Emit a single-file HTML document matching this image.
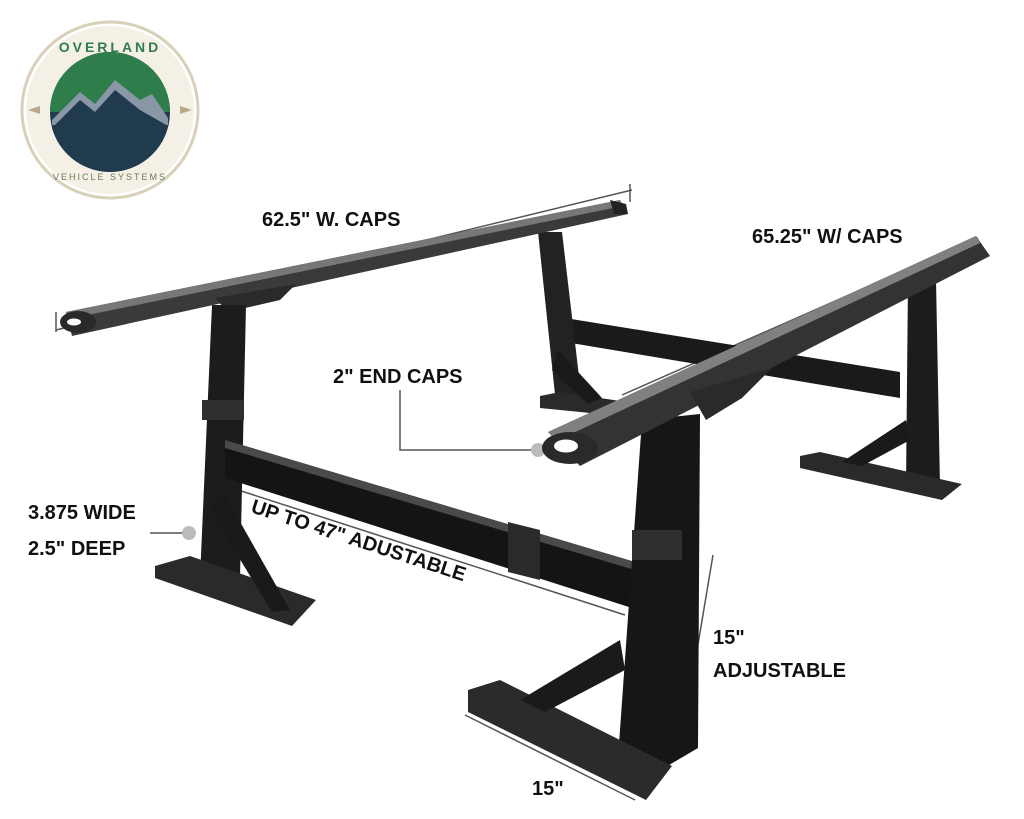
<!DOCTYPE html>
<html><head><meta charset="utf-8">
<style>
html,body{margin:0;padding:0;background:#fff;}
svg{display:block;}
text{font-family:"Liberation Sans",sans-serif;}
</style></head>
<body>
<svg width="1024" height="819" viewBox="0 0 1024 819" xmlns="http://www.w3.org/2000/svg">
<rect width="1024" height="819" fill="#fff"/>
<!-- Logo -->
<circle cx="110" cy="110" r="88" fill="#fff" stroke="#d8d0b8" stroke-width="3"/>
<circle cx="110" cy="110" r="84" fill="#f4f0e6"/>
<circle cx="110" cy="112" r="60" fill="#1f3b4d"/>
<path d="M50,112 A60,60 0 0 1 170,112 Z" fill="#2e7d4a"/>
<path d="M52,120 L80,92 L95,104 L115,80 L140,100 L152,94 L168,118 L168,125 L52,125 Z" fill="#8a97a6"/>
<path d="M52,128 L80,100 L95,112 L115,90 L140,110 L168,126 A60,60 0 0 1 52,128 Z" fill="#1f3b4d"/>
<text x="110" y="52" text-anchor="middle" font-size="14" font-weight="bold" fill="#2e7d4a" letter-spacing="3">OVERLAND</text>
<text x="110" y="180" text-anchor="middle" font-size="9" fill="#6b7b5a" letter-spacing="2">VEHICLE SYSTEMS</text>
<polygon points="28,110 40,106 40,114" fill="#b8a888"/>
<polygon points="192,110 180,106 180,114" fill="#b8a888"/>

<!-- Dimension lines -->
<g stroke="#555" stroke-width="1.5" fill="none">
<line x1="56" y1="330" x2="632" y2="190"/>
<line x1="56" y1="312" x2="56" y2="332"/>
<line x1="630" y1="184" x2="630" y2="202"/>
<line x1="622" y1="395" x2="978" y2="238"/>
<polyline points="400,390 400,450 535,450"/>
<line x1="150" y1="533" x2="188" y2="533"/>
<line x1="232" y1="488" x2="625" y2="615"/>
<line x1="713" y1="555" x2="680" y2="752"/>
<line x1="465" y1="715" x2="635" y2="800"/>
</g>
<circle cx="538" cy="450" r="7" fill="#bbb"/>
<circle cx="189" cy="533" r="7" fill="#bbb"/>

<!-- Back crossbar -->
<polygon points="565,318 900,372 900,398 565,342" fill="#1a1a1a"/>
<!-- Back left leg -->
<polygon points="538,232 562,232 582,402 556,404" fill="#222"/>
<polygon points="540,396 560,392 640,404 620,416 540,408" fill="#2a2a2a"/>
<polygon points="558,350 602,398 588,404 552,370" fill="#1a1a1a"/>
<!-- Back right leg -->
<polygon points="908,280 936,280 940,486 906,486" fill="#1c1c1c"/>
<polygon points="800,456 820,452 962,484 942,500 800,468" fill="#2a2a2a"/>
<polygon points="906,420 842,462 862,466 910,440" fill="#1a1a1a"/>

<!-- Left top rail -->
<polygon points="66,312 620,200 628,214 72,336" fill="#3a3a3a"/>
<polygon points="66,312 620,200 623,206 68,319" fill="#777"/>
<ellipse cx="78" cy="322" rx="18" ry="11" fill="#2a2a2a"/>
<ellipse cx="74" cy="322" rx="7" ry="3.5" fill="#fff"/>
<polygon points="610,200 626,204 628,214 614,214" fill="#222"/>
<polygon points="215,298 296,284 280,300 228,312" fill="#2a2a2a"/>

<!-- Front left leg -->
<polygon points="212,305 246,305 240,578 200,578" fill="#1c1c1c"/>
<polygon points="155,566 190,556 316,600 292,626 155,578" fill="#2a2a2a"/>
<polygon points="222,490 290,610 272,612 210,510" fill="#1a1a1a"/>
<rect x="202" y="400" width="42" height="20" fill="#2f2f2f"/>

<!-- Main front crossbar -->
<polygon points="225,440 635,562 632,608 225,478" fill="#141414"/>
<polygon points="225,440 635,562 635,570 225,448" fill="#4a4a4a"/>
<polygon points="508,522 540,530 540,580 508,572" fill="#2a2a2a"/>

<!-- Front right leg -->
<polygon points="642,420 700,414 698,748 664,768 618,758" fill="#161616"/>
<polygon points="468,690 500,680 672,766 646,800 468,712" fill="#2b2b2b"/>
<polygon points="620,640 520,700 545,712 625,670" fill="#1a1a1a"/>
<rect x="632" y="530" width="50" height="30" fill="#2f2f2f"/>

<!-- Right top rail -->
<polygon points="548,432 976,236 990,256 580,466" fill="#333"/>
<polygon points="548,432 976,236 980,243 556,441" fill="#808080"/>
<ellipse cx="570" cy="448" rx="28" ry="16" fill="#2a2a2a"/>
<ellipse cx="566" cy="446" rx="12" ry="6.5" fill="#fff"/>
<polygon points="690,392 772,368 742,398 706,420" fill="#2a2a2a"/>

<!-- Labels -->
<g font-size="20" font-weight="bold" fill="#111">
<text x="262" y="226">62.5" W. CAPS</text>
<text x="752" y="243">65.25" W/ CAPS</text>
<text x="333" y="383">2" END CAPS</text>
<text x="28" y="519">3.875 WIDE</text>
<text x="28" y="555">2.5" DEEP</text>
<text x="713" y="644">15"</text>
<text x="713" y="677">ADJUSTABLE</text>
<text x="532" y="795">15"</text>
<text x="0" y="0" transform="translate(250,512) rotate(18)">UP TO 47" ADUSTABLE</text>
</g>
</svg>
</body></html>
